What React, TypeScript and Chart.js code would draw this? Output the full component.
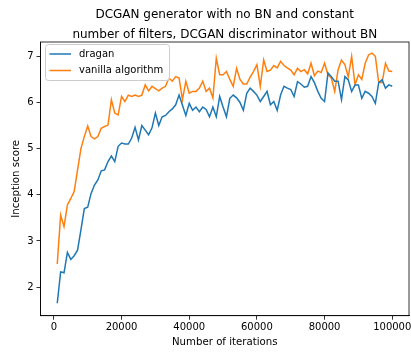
import React, { useEffect, useRef } from "react";
import { Chart, registerables } from "chart.js";

Chart.register(...registerables);

const TITLE_LINES = [
  "DCGAN generator with no BN and constant",
  "number of filters, DCGAN discriminator without BN",
];
const X_LABEL = "Number of iterations";
const Y_LABEL = "Inception score";

const ITERATIONS = [
  1000, 2000, 3000, 4000, 5000, 6000, 7000, 8000, 9000, 10000,
  11000, 12000, 13000, 14000, 15000, 16000, 17000, 18000, 19000, 20000,
  21000, 22000, 23000, 24000, 25000, 26000, 27000, 28000, 29000, 30000,
  31000, 32000, 33000, 34000, 35000, 36000, 37000, 38000, 39000, 40000,
  41000, 42000, 43000, 44000, 45000, 46000, 47000, 48000, 49000, 50000,
  51000, 52000, 53000, 54000, 55000, 56000, 57000, 58000, 59000, 60000,
  61000, 62000, 63000, 64000, 65000, 66000, 67000, 68000, 69000, 70000,
  71000, 72000, 73000, 74000, 75000, 76000, 77000, 78000, 79000, 80000,
  81000, 82000, 83000, 84000, 85000, 86000, 87000, 88000, 89000, 90000,
  91000, 92000, 93000, 94000, 95000, 96000, 97000, 98000, 99000, 100000,
];

const DRAGAN = [
  1.65, 2.33, 2.31, 2.75, 2.6, 2.68, 2.8, 3.24, 3.7, 3.73,
  4.03, 4.21, 4.32, 4.52, 4.54, 4.72, 4.84, 4.72, 5.05, 5.12,
  5.1, 5.1, 5.23, 5.46, 5.19, 5.5, 5.4, 5.3, 5.45, 5.77,
  5.5, 5.69, 5.72, 5.8, 5.86, 5.95, 6.16, 5.94, 5.72, 5.98,
  5.83, 5.9, 5.8, 5.9, 5.85, 5.69, 5.9, 5.69, 6.13, 5.9,
  5.69, 6.09, 6.16, 6.1, 6.0, 5.83, 6.2, 6.31, 6.24, 6.16,
  6.02, 6.13, 6.24, 5.95, 6.02, 5.83, 6.16, 6.35, 6.31, 6.28,
  6.13, 6.45, 6.4, 6.33, 6.35, 6.56, 6.43, 6.24, 6.09, 6.02,
  6.64, 6.56, 6.46, 6.46, 6.06, 6.56, 6.49, 6.24, 6.38, 6.38,
  6.09, 6.24, 6.2, 6.13, 5.98, 6.43, 6.49, 6.31, 6.38, 6.35,
];

const VANILLA = [
  2.5, 3.56, 3.31, 3.78, 3.92, 4.07, 4.54, 5.0, 5.26, 5.49,
  5.26, 5.21, 5.26, 5.44, 5.48, 5.51, 6.06, 5.77, 5.73, 6.13,
  6.02, 6.16, 6.13, 6.16, 6.13, 6.16, 6.38, 6.25, 6.35, 6.3,
  6.25, 6.31, 6.35, 6.53, 6.46, 6.56, 6.53, 6.06, 6.46, 6.2,
  6.24, 6.24, 6.31, 6.46, 6.24, 6.31, 6.1, 6.96, 6.6, 6.6,
  6.67, 6.5, 6.35, 6.74, 6.5, 6.4, 6.4, 6.55, 6.67, 6.82,
  6.35, 6.92, 6.67, 6.7, 6.8, 6.75, 6.89, 6.8, 6.75, 6.7,
  6.6, 6.74, 6.67, 6.71, 6.62, 6.85, 6.58, 6.68, 6.65, 6.85,
  6.6, 6.53, 6.24, 6.71, 6.92, 6.82, 6.55, 7.0, 6.38, 6.6,
  6.5, 6.85, 7.03, 7.07, 7.0, 6.43, 6.43, 6.85, 6.68, 6.67,
];

const SERIES_LABELS = ["dragan", "vanilla algorithm"];
const SERIES_COLORS = ["#1f77b4", "#ff7f0e"];

const X_TICKS = [0, 20000, 40000, 60000, 80000, 100000];
const Y_TICKS = [2, 3, 4, 5, 6, 7];
const X_RANGE = [-3950, 104950];
const Y_RANGE = [1.38, 7.31];

const FONT = "'DejaVu Sans', sans-serif";

const titlePlugin = {
  id: "axesTitle",
  afterDraw(chart: any) {
    const { ctx, chartArea: a } = chart;
    const cx = (a.left + a.right) / 2;
    const rows = [15, 34.8];
    ctx.save();
    ctx.fillStyle = "#000";
    ctx.font = `12px ${FONT}`;
    ctx.textAlign = "center";
    ctx.textBaseline = "middle";
    TITLE_LINES.forEach((t, i) => ctx.fillText(t, cx, rows[i]));
    ctx.restore();
  },
};

const legendPlugin = {
  id: "boxLegend",
  afterDraw(chart: any) {
    const ctx = chart.ctx;
    const x = 45.5, y = 44.5, w = 124, h = 36, r = 3;
    ctx.save();
    ctx.beginPath();
    ctx.moveTo(x + r, y);
    ctx.lineTo(x + w - r, y);
    ctx.arcTo(x + w, y, x + w, y + r, r);
    ctx.lineTo(x + w, y + h - r);
    ctx.arcTo(x + w, y + h, x + w - r, y + h, r);
    ctx.lineTo(x + r, y + h);
    ctx.arcTo(x, y + h, x, y + h - r, r);
    ctx.lineTo(x, y + r);
    ctx.arcTo(x, y, x + r, y, r);
    ctx.closePath();
    ctx.fillStyle = "rgba(255,255,255,0.8)";
    ctx.fill();
    ctx.strokeStyle = "#cccccc";
    ctx.lineWidth = 1;
    ctx.stroke();
    const rows = [54, 70.5];
    chart.data.datasets.forEach((ds: any, i: number) => {
      const ry = rows[i];
      ctx.beginPath();
      ctx.moveTo(49.5, ry);
      ctx.lineTo(71, ry);
      ctx.strokeStyle = ds.borderColor;
      ctx.lineWidth = 1.5;
      ctx.stroke();
      ctx.fillStyle = "#000";
      ctx.font = `10px ${FONT}`;
      ctx.textBaseline = "middle";
      ctx.textAlign = "left";
      ctx.fillText(ds.label, 79, ry);
    });
    ctx.restore();
  },
};

const framePlugin = {
  id: "frame",
  afterDraw(chart: any) {
    const { ctx, chartArea: a } = chart;
    ctx.save();
    ctx.strokeStyle = "#000";
    ctx.lineWidth = 0.8;
    ctx.strokeRect(a.left, a.top, a.right - a.left, a.bottom - a.top);
    ctx.restore();
  },
};

export default function App() {
  const ref = useRef<HTMLCanvasElement | null>(null);

  useEffect(() => {
    if (!ref.current) return;
    const chart = new Chart(ref.current, {
      type: "line",
      data: {
        datasets: [DRAGAN, VANILLA].map((vals, i) => ({
          label: SERIES_LABELS[i],
          data: ITERATIONS.map((it, j) => ({ x: it, y: vals[j] })),
          borderColor: SERIES_COLORS[i],
          backgroundColor: SERIES_COLORS[i],
          borderWidth: 1.5,
          pointRadius: 0,
          tension: 0,
          fill: false,
        })),
      },
      options: {
        animation: false,
        responsive: false,
        devicePixelRatio: 1,
        layout: { padding: { left: 0, right: 2, top: 42, bottom: 0 } },
        plugins: {
          legend: { display: false },
          tooltip: { enabled: false },
          title: { display: false },
        },
        scales: {
          x: {
            type: "linear",
            min: X_RANGE[0],
            max: X_RANGE[1],
            afterBuildTicks: (s: any) => {
              s.ticks = X_TICKS.map((v) => ({ value: v }));
            },
            afterFit: (s: any) => {
              s.height = 36.3;
              s.paddingLeft = 0;
              s.paddingRight = 0;
            },
            grid: {
              drawOnChartArea: false,
              drawTicks: true,
              tickLength: 4,
              tickColor: "#000",
              tickWidth: 0.8,
            },
            border: { display: true, color: "#000", width: 0.8 },
            ticks: {
              color: "#000",
              font: { family: FONT, size: 10 },
              padding: 2,
              maxRotation: 0,
              autoSkip: false,
              callback: (v: any) => String(v),
            },
            title: {
              display: true,
              text: X_LABEL,
              color: "#000",
              font: { family: FONT, size: 10.2 },
              padding: { top: 0, bottom: 3.5 },
            },
          },
          y: {
            type: "linear",
            min: Y_RANGE[0],
            max: Y_RANGE[1],
            afterBuildTicks: (s: any) => {
              s.ticks = Y_TICKS.map((v) => ({ value: v }));
            },
            afterFit: (s: any) => {
              s.width = 40.5;
              s.paddingTop = 0;
              s.paddingBottom = 0;
            },
            grid: {
              drawOnChartArea: false,
              drawTicks: true,
              tickLength: 4,
              tickColor: "#000",
              tickWidth: 0.8,
            },
            border: { display: true, color: "#000", width: 0.8 },
            ticks: {
              color: "#000",
              font: { family: FONT, size: 10 },
              padding: 3,
              autoSkip: false,
              callback: (v: any) => String(v),
            },
            title: {
              display: true,
              text: Y_LABEL,
              color: "#000",
              font: { family: FONT, size: 10.2 },
              padding: { top: 10.6, bottom: 0 },
            },
          },
        },
      },
      plugins: [legendPlugin, framePlugin, titlePlugin],
    } as any);
    return () => chart.destroy();
  }, []);

  return (
    <div style={{ position: "absolute", left: 0, top: 0, width: 411, height: 352, background: "#fff" }}>
      <canvas ref={ref} width={411} height={352} style={{ display: "block", width: 411, height: 352 }} />
    </div>
  );
}
